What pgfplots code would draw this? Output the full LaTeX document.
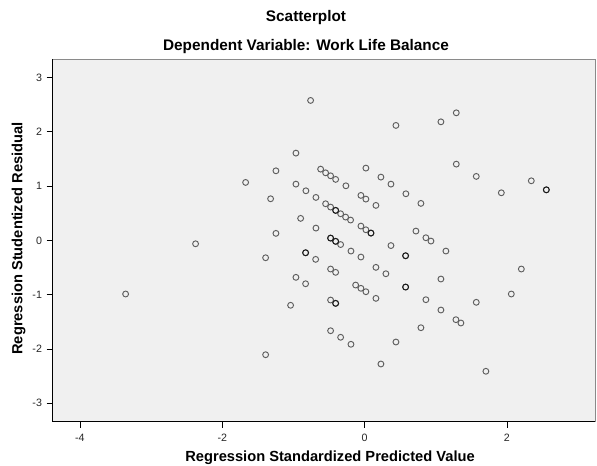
\documentclass[border=0pt]{standalone}
\usepackage{fontspec}
\setmainfont{Liberation Sans}
\usepackage{pgfplots}
\pgfplotsset{compat=1.18}
\usepackage{pgfplotstable}
\definecolor{markgray}{HTML}{5E5E5E}
\definecolor{bggray}{HTML}{F0F0F0}
\definecolor{boxgray}{HTML}{8A8A8A}
\pgfplotstableread{
x y
-0.759 2.577
0.440 2.117
-0.965 1.607
-1.246 1.281
-0.618 1.312
-0.548 1.244
-0.478 1.189
-0.407 1.123
0.018 1.331
0.229 1.165
0.370 1.036
-1.672 1.067
-0.965 1.036
-0.825 0.913
-0.684 0.791
-0.263 1.005
-0.052 0.828
0.018 0.760
0.159 0.644
0.580 0.858
0.791 0.681
-1.321 0.766
-0.548 0.674
-0.478 0.613
-0.407 0.552
-0.337 0.490
-0.267 0.429
-0.197 0.374
-0.899 0.405
-0.684 0.226
-0.052 0.263
0.018 0.195
0.089 0.134
-1.246 0.129
0.721 0.171
-0.478 0.042
-0.407 -0.018
-0.337 -0.077
0.370 -0.096
1.288 2.349
1.072 2.183
1.288 1.404
1.569 1.178
2.342 1.097
2.553 0.931
1.921 0.876
0.861 0.048
0.932 -0.013
-2.375 -0.063
-3.358 -0.988
-1.391 -0.320
-0.829 -0.228
-0.688 -0.350
-0.192 -0.197
-0.052 -0.307
0.576 -0.283
-0.478 -0.528
-0.407 -0.589
-0.965 -0.681
-0.829 -0.799
-0.126 -0.823
-0.052 -0.883
0.018 -0.946
0.159 -0.497
0.299 -0.615
0.576 -0.860
0.159 -1.068
-0.478 -1.099
-0.407 -1.160
-1.040 -1.196
-0.478 -1.664
-0.337 -1.785
-0.192 -1.914
0.440 -1.872
-1.391 -2.106
0.229 -2.277
1.142 -0.197
2.202 -0.528
1.072 -0.712
2.061 -0.988
0.861 -1.093
1.569 -1.141
1.072 -1.283
1.283 -1.461
1.353 -1.522
0.791 -1.609
1.704 -2.411
}\maindata
\pgfplotstableread{
x y
2.553 0.931
-0.829 -0.228
0.576 -0.283
0.576 -0.860
-0.478 0.042
-0.407 -0.018
0.089 0.134
-0.407 0.552
-0.407 -1.160
}\overlapdata
\begin{document}
\begin{tikzpicture}
\useasboundingbox (-39.5pt,-32.5pt) rectangle (408.2pt,316.25pt);
\begin{axis}[
  scale only axis,
  width=406.7pt, height=272pt,
  xmin=-4.383, xmax=3.237,
  ymin=-3.34, ymax=3.34,
  xtick={-4,-2,0,2},
  ytick={-3,-2,-1,0,1,2,3},
  tick align=outside,
  xtick pos=left, ytick pos=left,
  major tick length=4.5pt,
  tick style={black, line width=0.6pt},
  axis background/.style={fill=bggray},
  axis line style={draw=boxgray, line width=0.6pt},
  /pgf/number format/assume math mode=true,
  ticklabel style={font=\fontsize{8}{9.5}\selectfont, text=black!85},
  xticklabel style={yshift=-1pt},
  clip=false,
]
\addplot[only marks, mark=o, mark size=2.2pt, mark options={draw=markgray, line width=0.7pt}] table[x=x,y=y] {\maindata};
\addplot[only marks, mark=o, mark size=2.2pt, mark options={draw=black!90, line width=0.7pt}] table[x=x,y=y] {\overlapdata};
\draw[black, line width=0.8pt] (rel axis cs:0,1) -- (rel axis cs:0,0) -- (rel axis cs:1,0);
\end{axis}
\node[font=\bfseries\fontsize{11.5}{13}\selectfont] at (190pt,303.3pt) {Scatterplot};
\node[font=\bfseries\fontsize{11.5}{13}\selectfont] at (190pt,281.2pt) {Dependent Variable: Work Life Balance};
\node[font=\bfseries\fontsize{11}{13}\selectfont] at (208pt,-27pt) {Regression Standardized Predicted Value};
\node[font=\bfseries\fontsize{11}{13}\selectfont, rotate=90] at (-25.5pt,137.4pt) {Regression Studentized Residual};
\end{tikzpicture}
\end{document}
